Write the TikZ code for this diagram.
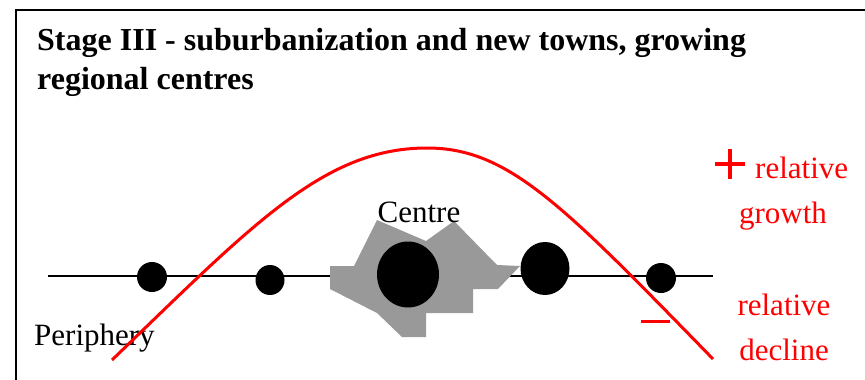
\documentclass[tikz,border=0pt]{standalone}
\usepackage{fontspec}
\setmainfont{Liberation Serif}
\definecolor{pptred}{RGB}{255,0,0}
\definecolor{blobgray}{RGB}{153,153,153}
\tikzset{
  lbl/.style={inner sep=0pt, font=\fontsize{31}{31}\selectfont},
  redlbl/.style={lbl, text=pptred},
}
\begin{document}
\begin{tikzpicture}[x=1pt,y=-1pt]
\useasboundingbox (0,0) rectangle (865,380);
% frame
\draw[line width=2.3pt] (16,395) -- (16,10) -- (880,10);
% title
\node[inner sep=0pt, anchor=base west, font=\bfseries\fontsize{32}{38}\selectfont] (t1) at (37,50) {Stage III - suburbanization and new towns, growing};
\node[inner sep=0pt, anchor=base west, font=\bfseries\fontsize{32}{38}\selectfont] (t2) at (37,89) {regional centres};
% axis
\coordinate (la) at (48,276);
\coordinate (lb) at (713,276);
\draw[line width=1.8pt] (la) -- (lb);
% centre blob
\fill[blobgray] (330,266) -- (354,266) -- (377,220) -- (426,241) -- (454,221) -- (497,265) -- (520,266) -- (498,289) -- (473,289) -- (473,313) -- (426,313) -- (426,337) -- (402,337) -- (377,313) -- (330,289) -- cycle;
% dots
\fill (152,277) ellipse [x radius=15, y radius=15];
\fill (270,280) ellipse [x radius=14.5, y radius=15];
\fill (408,274.5) ellipse [x radius=31, y radius=33];
\fill (545,268.5) ellipse [x radius=24.5, y radius=26.5];
\fill (661,278) ellipse [x radius=15, y radius=15];
% labels
\node[lbl, anchor=base] (centre) at (419,222) {Centre};
\node[lbl, anchor=base west] (periph) at (34,345) {Periphery};
% red curve
\coordinate (cs) at (112,360);
\coordinate (cp) at (427,148);
\coordinate (ce) at (713,359);
\draw[pptred, line width=3pt] (cs) .. controls (255,222) and (325,148) .. (cp) .. controls (508,148) and (562,204) .. (ce);
% plus / minus
\draw[pptred, line width=3.5pt] (715,164) -- (745,164) (730,149) -- (730,179);
\draw[pptred, line width=3pt] (641,321) -- (670,321);
% red labels
\node[redlbl, anchor=base west] (rel1) at (755,178) {relative};
\node[redlbl, anchor=base] (gro) at (783,223) {growth};
\node[redlbl, anchor=base] (rel2) at (784,315) {relative};
\node[redlbl, anchor=base] (dec) at (784,360) {decline};
\end{tikzpicture}
\end{document}
